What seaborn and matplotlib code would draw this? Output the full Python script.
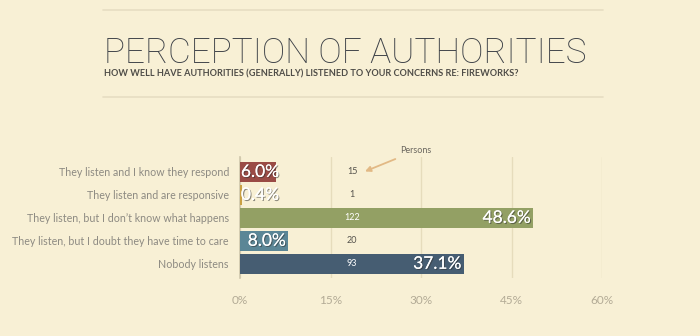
import matplotlib
matplotlib.use("Agg")
import matplotlib.pyplot as plt
import matplotlib.patheffects as pe
import seaborn as sns
import pandas as pd

categories = [
    "They listen and I know they respond",
    "They listen and are responsive",
    "They listen, but I don\u2019t know what happens",
    "They listen, but I doubt they have time to care",
    "Nobody listens",
]
percents = [6.0, 0.4, 48.6, 8.0, 37.1]
persons = [15, 1, 122, 20, 93]
colors = ["#9a4b45", "#c9a043", "#93a064", "#5b8696", "#465d72"]
xticks = [0, 15, 30, 45, 60]

BG = "#f8f0d5"

sns.set_theme(style="white")
plt.rcParams["font.family"] = ["Lato", "DejaVu Sans"]

fig = plt.figure(figsize=(7, 3.36), dpi=100, facecolor=BG)
ax = fig.add_axes([240 / 700, 1 - 278 / 336, 362 / 700, 121 / 336])
ax.set_facecolor(BG)

df = pd.DataFrame({"category": categories, "percent": percents})
sns.barplot(data=df, y="category", x="percent", hue="category",
            palette=colors, orient="h", width=0.87, ax=ax,
            legend=False, saturation=1, edgecolor="none", zorder=3)

ax.set_xlim(0, 60)
ax.set_ylim(4.62, -0.65)
ax.set_xticks(xticks)
ax.set_xticklabels([f"{t}%" for t in xticks])
ax.tick_params(axis="x", length=0, pad=12, labelsize=8.5, labelcolor="#b3ab96")
ax.tick_params(axis="y", length=0, pad=8, labelsize=7.7, labelcolor="#8d8a82")
ax.set_xlabel("")
ax.set_ylabel("")
for s in ["top", "right", "bottom"]:
    ax.spines[s].set_visible(False)
ax.spines["left"].set_color("#cfc6ab")
ax.spines["left"].set_linewidth(1.2)
ax.xaxis.grid(True, color="#e6dcbc", linewidth=1, zorder=0)
ax.yaxis.grid(False)

shadow = [pe.withSimplePatchShadow(offset=(0.8, -0.8), shadow_rgbFace="#333333", alpha=0.55), pe.Normal()]
for i, (p, n) in enumerate(zip(percents, persons)):
    label = f"{p:.1f}%"
    if p >= 8:
        ax.text(p - 0.4, i, label, ha="right", va="center", color="white",
                fontsize=12.5, path_effects=shadow, zorder=5)
    else:
        ax.text(0.15, i, label, ha="left", va="center", color="white",
                fontsize=12.5, path_effects=shadow, zorder=5)
    inside = p > 18.5
    ax.text(18.6, i, str(n), ha="center", va="center",
            color="white" if inside else "#55524c", fontsize=6.5, zorder=5)

ax.annotate("Persons", xy=(20.5, 0.0), xytext=(26.5, -0.92),
            textcoords="data", fontsize=6.5, color="#6b675f",
            ha="left", va="center", annotation_clip=False,
            arrowprops=dict(arrowstyle="-|>", color="#e2b985", lw=1.3,
                            shrinkA=1, shrinkB=1, mutation_scale=8))

fig.text(104 / 700, 1 - 63 / 336, "PERCEPTION OF AUTHORITIES",
         fontsize=25.3, family=["Roboto", "DejaVu Sans"], fontweight="light",
         color="#3d4147", ha="left", va="baseline")
fig.text(104 / 700, 1 - 74 / 336,
         "HOW WELL HAVE AUTHORITIES (GENERALLY) LISTENED TO YOUR CONCERNS RE: FIREWORKS?",
         fontsize=6.6, fontweight="bold", color="#4f4d48", ha="left", va="center")

for y in (10, 97):
    fig.add_artist(plt.Line2D([103 / 700, 603 / 700], [1 - y / 336, 1 - y / 336],
                              color="#e6ddc2", lw=1.2))

fig.savefig("out.png", dpi=100, facecolor=BG)
